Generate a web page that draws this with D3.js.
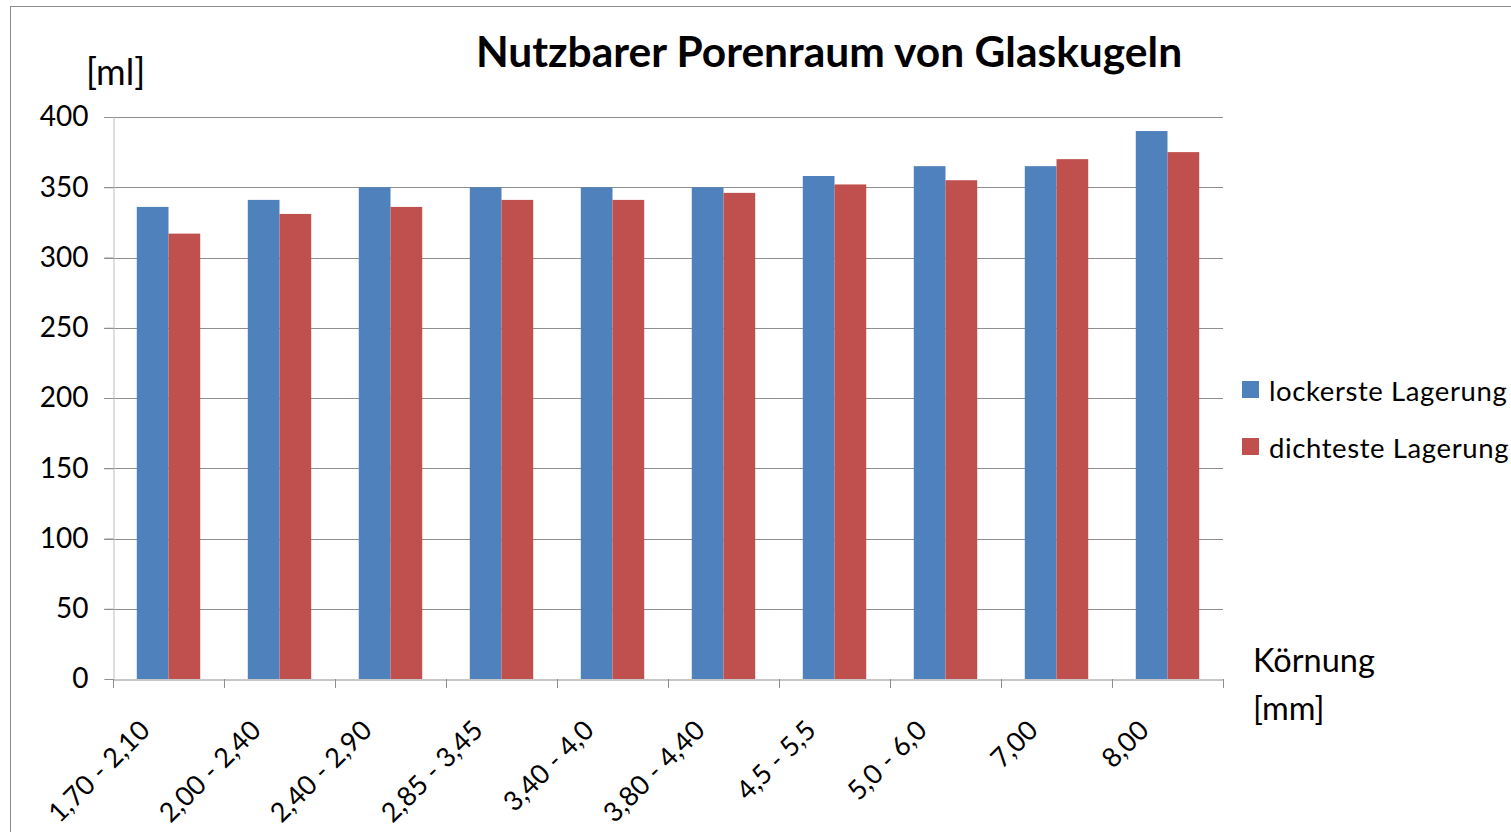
<!DOCTYPE html>
<html>
<head>
<meta charset="utf-8">
<script src="https://cdn.jsdelivr.net/npm/d3@7"></script>
<style>
  html, body { margin: 0; padding: 0; background: #fff; }
  svg { display: block; font-family: Lato, Carlito, "Open Sans", sans-serif; }
</style>
</head>
<body>
<svg id="chart" width="1511" height="832"></svg>
<script>
const categories = ['1,70 - 2,10', '2,00 - 2,40', '2,40 - 2,90', '2,85 - 3,45', '3,40 - 4,0',
    '3,80 - 4,40', '4,5 - 5,5', '5,0 - 6,0', '7,00', '8,00'];
const lockerste = [336, 341, 350, 350, 350, 350, 358, 365, 365, 390];
const dichteste = [317, 331, 336, 341, 341, 346, 352, 355, 370, 375];
const seriesNames = ['lockerste Lagerung', 'dichteste Lagerung'];
const yTicks = [0, 50, 100, 150, 200, 250, 300, 350, 400];

const svg = d3.select('#chart');

const plot = { left: 113, right: 1223, top: 117, bottom: 679 };

// Colour Scale
const scaleColour = d3.scaleOrdinal()
    .domain(seriesNames)
    .range(['#4F81BD', '#C0504D']);

// Scales
const scaleX = d3.scaleBand()
    .domain(categories)
    .range([plot.left, plot.right]);

// bar width per Excel gap width 150%
const barW = scaleX.bandwidth() / 3.5;
const groupOffset = 0.75 * barW;

const scaleY = d3.scaleLinear()
    .domain([0, 400])
    .range([plot.bottom, plot.top]);

// Outer frame
svg.append('rect')
    .attr('x', 10.5).attr('y', 6.5)
    .attr('width', 1600).attr('height', 900)
    .attr('fill', 'none')
    .attr('stroke', '#8c8c8c')
    .attr('stroke-width', 1);

// Gridlines
svg.append('g')
    .selectAll('line')
    .data(yTicks.filter(d => d > 0))
    .join('line')
    .attr('x1', plot.left - 9)
    .attr('x2', plot.right)
    .attr('y1', d => Math.round(scaleY(d)) + 0.5)
    .attr('y2', d => Math.round(scaleY(d)) + 0.5)
    .attr('stroke', '#8f8f8f')
    .attr('stroke-width', 1);

// Bars
const groups = svg.append('g')
    .selectAll('g')
    .data(categories)
    .join('g')
    .attr('transform', d => `translate(${scaleX(d) + groupOffset},0)`);

groups.selectAll('rect')
    .data((d, i) => [
        { name: seriesNames[0], value: lockerste[i] },
        { name: seriesNames[1], value: dichteste[i] }
    ])
    .join('rect')
    .attr('x', (d, j) => j * barW)
    .attr('width', barW)
    .attr('y', d => scaleY(d.value))
    .attr('height', d => scaleY(0) - scaleY(d.value))
    .attr('fill', d => scaleColour(d.name));

// Y axis
const yAxis = svg.append('g')
    .attr('transform', `translate(${plot.left + 0.5},0)`)
    .call(d3.axisLeft(scaleY).tickValues(yTicks).tickSize(9).tickPadding(16));
yAxis.select('.domain').attr('stroke', '#bdbdbd');
yAxis.selectAll('.tick line').attr('stroke', '#8f8f8f');
yAxis.selectAll('.tick text')
    .attr('fill', '#000')
    .style('font-size', '28px')
    .style('font-family', 'Lato, sans-serif');

// X axis
const xAxis = svg.append('g')
    .attr('transform', `translate(0,${plot.bottom + 0.5})`)
    .call(d3.axisBottom(scaleX).tickSize(0).tickFormat(''));
xAxis.select('.domain').attr('stroke', '#8f8f8f');

const xEdges = categories.map(c => scaleX(c)).concat([plot.right]);
svg.append('g')
    .selectAll('line')
    .data(xEdges)
    .join('line')
    .attr('x1', d => Math.round(d) + 0.5)
    .attr('x2', d => Math.round(d) + 0.5)
    .attr('y1', plot.bottom)
    .attr('y2', plot.bottom + 9)
    .attr('stroke', '#8f8f8f');

svg.append('g')
    .selectAll('text')
    .data(categories)
    .join('text')
    .text(d => d)
    .attr('transform', d => `translate(${scaleX(d) + scaleX.bandwidth() / 2 - 17},${plot.bottom + 53}) rotate(-45)`)
    .style('text-anchor', 'end')
    .style('font-size', '27px')
    .attr('fill', '#000');

// Title
svg.append('text')
    .text('Nutzbarer Porenraum von Glaskugeln')
    .attr('x', 829)
    .attr('y', 67)
    .style('text-anchor', 'middle')
    .style('font-size', '42.5px')
    .style('font-weight', '700');

// Axis titles
svg.append('text')
    .text('[ml]')
    .attr('x', 86)
    .attr('y', 85)
    .style('font-size', '36px');

svg.append('text')
    .text('Körnung')
    .attr('x', 1253)
    .attr('y', 672)
    .style('font-size', '32.5px');

svg.append('text')
    .text('[mm]')
    .attr('x', 1253)
    .attr('y', 720)
    .style('font-size', '32.5px');

// Legend
const legend = svg.append('g')
    .selectAll('g')
    .data(seriesNames)
    .join('g')
    .attr('transform', (d, i) => `translate(1242,${381 + i * 57})`);

legend.append('rect')
    .attr('width', 17)
    .attr('height', 17)
    .attr('fill', d => scaleColour(d));

legend.append('text')
    .text(d => d)
    .attr('x', 27)
    .attr('y', 20)
    .style('font-size', '27.5px')
    .style('letter-spacing', '0.6px');
</script>
</body>
</html>
